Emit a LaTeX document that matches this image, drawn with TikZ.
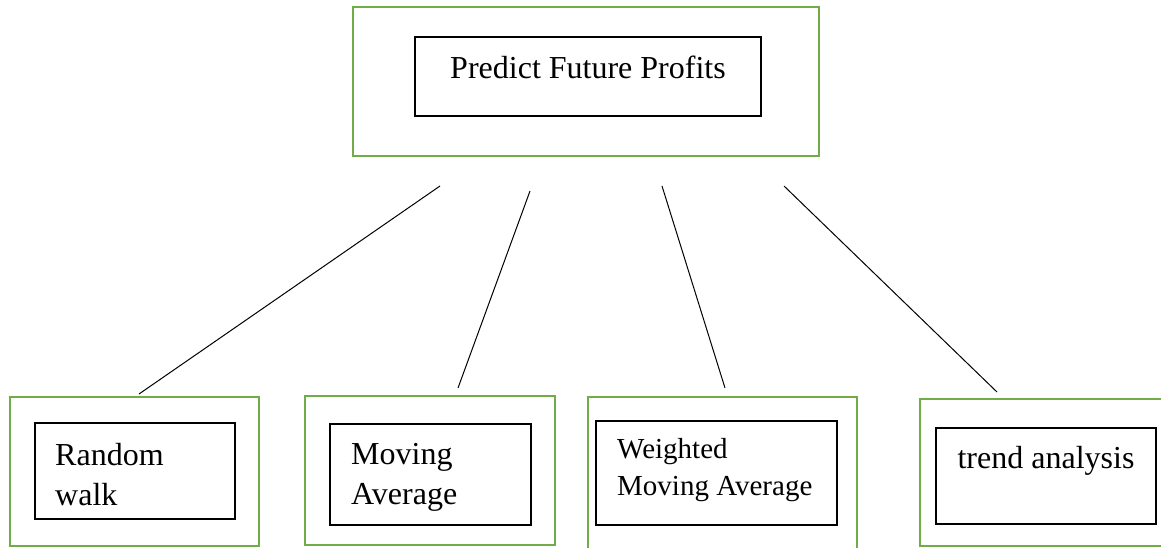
\documentclass[tikz,border=0pt]{standalone}
\usepackage{fontspec}
\setmainfont{Liberation Serif}
\definecolor{leaf}{RGB}{112,173,71}
\usetikzlibrary{positioning}

\begin{document}
\begin{tikzpicture}[x=1pt,y=-1pt,
    frame/.style={draw=leaf,line width=2.8pt,inner sep=0},
    box/.style={draw=black,line width=1.6pt,inner sep=0},
    lbl/.style={inner sep=0,font=\fontsize{32}{40}\selectfont},
    small/.style={inner sep=0,font=\fontsize{29}{37}\selectfont}]
  \useasboundingbox (0,0) rectangle (1161,547);

  % goal at the top
  \node[frame,minimum width=466pt,minimum height=149pt] (goal) at (586,81.5) {};
  \node[box,minimum width=346pt,minimum height=79pt] (goalbox) at (588,76.5) {};
  \node[lbl,anchor=base] (goaltxt) at (588,78) {Predict Future Profits};

  % the four methods (two-line labels sit on their last baseline)
  \node[frame,minimum width=249pt,minimum height=149pt] (rw) at (134.5,471.5) {};
  \node[box,minimum width=200pt,minimum height=96pt] (rwbox) at (135,471) {};
  \node[lbl,anchor=base west,align=left] (rwtxt) at (55,505) {Random\\walk};

  \node[frame,minimum width=250pt,minimum height=149pt] (ma) at (430,470.5) {};
  \node[box,minimum width=201pt,minimum height=101pt] (mabox) at (430.5,474.5) {};
  \node[lbl,anchor=base west,align=left] (matxt) at (351,504) {Moving\\Average};

  \node[frame,minimum width=269pt,minimum height=156pt] (wma) at (722.5,475) {};
  \node[box,minimum width=241pt,minimum height=104pt] (wmabox) at (716.5,473) {};
  \node[small,anchor=base west,align=left] (wmatxt) at (617,495) {Weighted\\Moving Average};

  \node[frame,minimum width=246pt,minimum height=147pt] (ta) at (1043,472.5) {};
  \node[box,minimum width=220pt,minimum height=96pt] (tabox) at (1046,476) {};
  \node[lbl,anchor=base] (tatxt) at (1046,468) {trend analysis};

  % connectors
  \coordinate (g1) at (440,186);
  \coordinate (g2) at (530,191);
  \coordinate (g3) at (662,186);
  \coordinate (g4) at (784,186);
  \coordinate (rwtop) at (139,394);
  \coordinate (matop) at (458,388);
  \coordinate (wmatop) at (725,388);
  \coordinate (tatop) at (997,392);
  \draw[line width=1pt] (g1)--(rwtop);
  \draw[line width=1pt] (g2)--(matop);
  \draw[line width=1pt] (g3)--(wmatop);
  \draw[line width=1pt] (g4)--(tatop);
\end{tikzpicture}
\end{document}
